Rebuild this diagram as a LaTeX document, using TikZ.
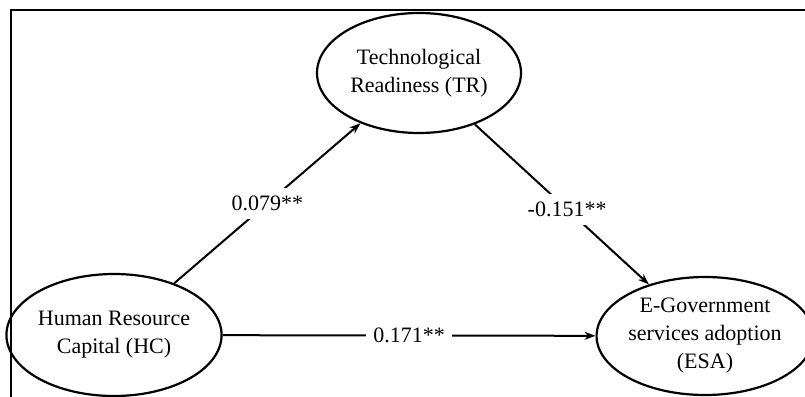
\documentclass[tikz,border=0pt]{standalone}
\usepackage{fontspec}
\setmainfont{Liberation Serif}
\usetikzlibrary{shapes.geometric,arrows.meta}
\begin{document}
\begin{tikzpicture}[x=1pt,y=-1pt,
  construct/.style={draw, ellipse, line width=2.2pt, inner sep=0pt, align=center,
    font=\fontsize{22}{28}\selectfont},
  path/.style={line width=2pt, -{Stealth[length=11pt,width=8pt]}},
  coef/.style={fill=white, inner xsep=7pt, inner ysep=8pt, font=\fontsize{22}{26}\selectfont}]
  \useasboundingbox (0,0) rectangle (805,396);
  \draw[line width=2.6pt] (11,400) coordinate (fb) -- (11,10) coordinate (fc) -- (810,10) coordinate (fe);
  \node[construct, minimum width=204pt, minimum height=120pt] (TR) at (419,73) {Technological\\Readiness (TR)};
  \node[construct, minimum width=202pt, minimum height=122pt] (HC) at (114,335) {Human Resource\\Capital (HC)};
  \node[construct, minimum width=197pt, minimum height=118pt] (ESA) at (705,336) {E-Government\\services adoption\\(ESA)};
  \draw[path] (HC) -- node[coef] {0.079**} (TR);
  \draw[path] (TR) -- node[coef, pos=0.53] {-0.151**} (ESA);
  \draw[path] (HC) -- node[coef, pos=0.5] {0.171**} (ESA);
\end{tikzpicture}
\end{document}
